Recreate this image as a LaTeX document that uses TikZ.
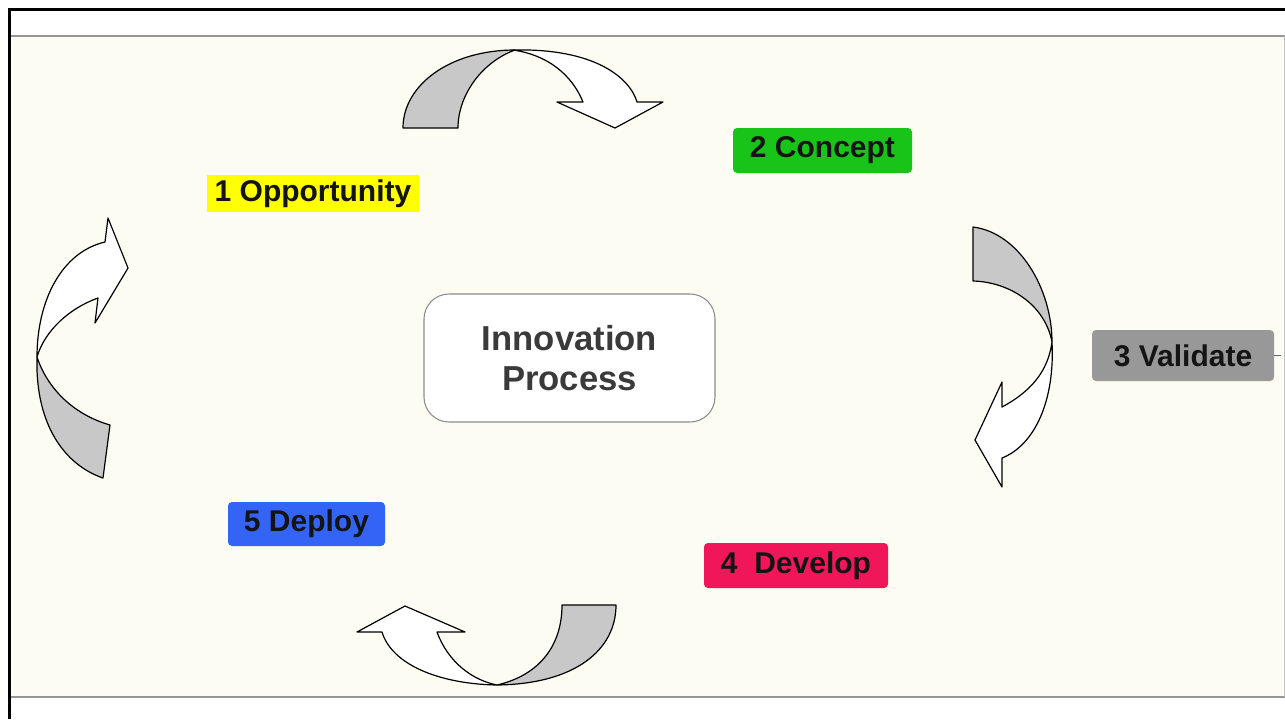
\documentclass[tikz,border=0pt]{standalone}
\usepackage{fontspec}
\setmainfont{Liberation Sans}
\definecolor{cream}{RGB}{252,252,242}
\definecolor{framegray}{RGB}{150,150,150}
\definecolor{shade}{RGB}{200,200,200}
\definecolor{cyellow}{RGB}{255,255,0}
\definecolor{cgreen}{RGB}{24,196,24}
\definecolor{cgray}{RGB}{152,152,152}
\definecolor{cred}{RGB}{240,22,90}
\definecolor{cblue}{RGB}{52,100,245}
\definecolor{ctext}{RGB}{58,58,58}
\begin{document}
\begin{tikzpicture}[x=0.75pt,y=-0.75pt,
  lbl/.style={inner sep=0pt,font=\fontsize{22.5}{27}\selectfont\bfseries,text=black!92},
  band/.style={draw=black,line width=0.9pt,line join=round},
  backband/.style={band,fill=shade},
  frontband/.style={band,fill=white}]
\useasboundingbox (0,0) rectangle (1285,719);
\fill[white] (0,0) rectangle (1285,719);
% cream panel
\fill[cream] (12,37) rectangle (1283,696);
\draw[framegray,line width=1pt] (10,36) -- (1285,36);
\draw[framegray,line width=1pt] (10,697) -- (1285,697);
\draw[framegray!60,line width=0.6pt] (1284,36) -- (1284,697);
% black frame
\draw[black,line width=2.2pt] (9.5,719) -- (9.5,9.5) -- (1285,9.5);

% centre
\node[draw=black!45,line width=0.8pt,fill=white,rounded corners=18.75pt,
      minimum width=218.25pt,minimum height=96pt,inner sep=0pt,
      align=center,text=ctext,font=\fontsize{26}{29.5}\selectfont\bfseries]
      (c) at (569.5,358) {Innovation\\Process};

% labels
\node[lbl,fill=cyellow,minimum width=159pt,minimum height=27.75pt] (s1) at (313,193.5) {1 Opportunity};
\node[lbl,fill=cgreen,rounded corners=3pt,minimum width=134.25pt,minimum height=33.75pt] (s2) at (822.5,150.5) {2 Concept};
\node[lbl,fill=cgray,rounded corners=3pt,minimum width=136.5pt,minimum height=38.25pt] (s3) at (1183,355.5) {3 Validate};
\node[lbl,fill=cred,rounded corners=3pt,minimum width=138pt,minimum height=33.75pt] (s4) at (796,565.5) {4\ \ Develop};
\node[lbl,fill=cblue,rounded corners=3pt,minimum width=117.75pt,minimum height=33pt] (s5) at (306.5,524) {5 Deploy};
\coordinate (s3tick) at (1281,355.5);
\draw[black!60,line width=0.6pt] (s3.east) -- (s3tick);

% top arrow (curved down)
\draw[backband] (403,128) .. controls (403,85) and (450,50) .. (515,50)
  .. controls (482,62) and (458,95) .. (458,128) -- cycle;
\draw[frontband] (513,50) .. controls (595,48) and (630,78) .. (637,102)
  -- (663,102) -- (615,128) -- (557,102) -- (583,102)
  .. controls (572,75) and (548,55) .. (513,50) -- cycle;

% right arrow (curved, pointing down-left)
\draw[backband] (973,227) .. controls (1020,233) and (1052,290) .. (1052,342)
  .. controls (1045,305) and (1010,282) .. (973,281) -- cycle;
\draw[frontband] (1052,342) .. controls (1055,400) and (1035,445) .. (1002,458)
  -- (1002,487) -- (975,440) -- (1002,382) -- (1002,407)
  .. controls (1030,392) and (1048,372) .. (1052,342) -- cycle;

% bottom arrow (curved, pointing up-left)
\draw[backband] (616,605) .. controls (616,650) and (575,684) .. (497,685)
  .. controls (540,675) and (562,645) .. (562,605) -- cycle;
\draw[frontband] (497,685) .. controls (440,684) and (392,665) .. (382,632)
  -- (357,632) -- (405,606) -- (465,632) -- (437,632)
  .. controls (448,662) and (472,680) .. (497,685) -- cycle;

% left arrow (curved, pointing up-right)
\draw[backband] (110,425) -- (103,478) .. controls (65,465) and (35,425) .. (37,357)
  .. controls (48,390) and (75,415) .. (110,425) -- cycle;
\draw[frontband] (37,357) .. controls (37,300) and (62,252) .. (105,242)
  -- (108,218) -- (128,268) -- (95,323) -- (98,298)
  .. controls (70,308) and (45,330) .. (37,357) -- cycle;
\end{tikzpicture}
\end{document}
